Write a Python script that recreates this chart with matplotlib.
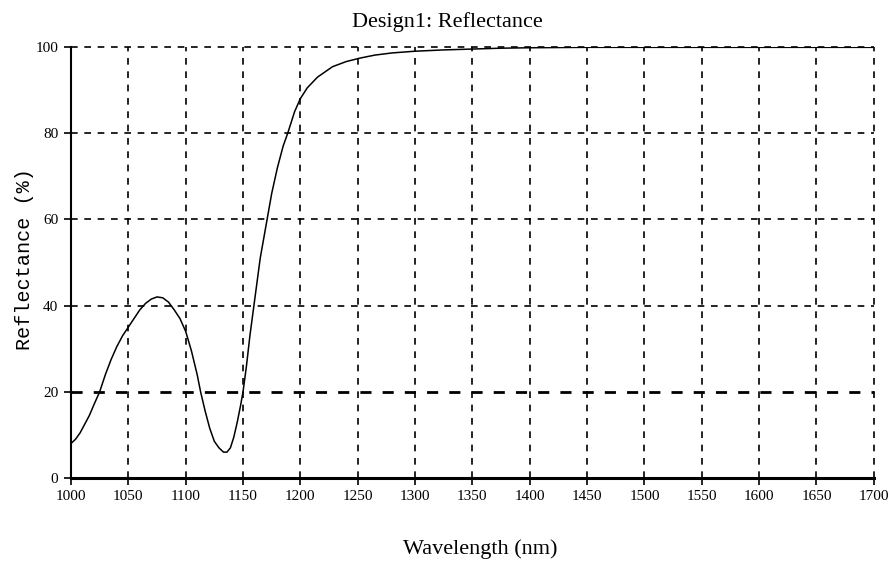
import matplotlib.pyplot as plt

# reflectance curve, read per wavelength (nm -> %)
wavelength = [1000, 1004, 1008, 1012, 1016, 1020, 1025, 1030, 1035, 1040, 1045, 1050,
              1055, 1060, 1065, 1070, 1075, 1080, 1085, 1090, 1095, 1100, 1105, 1110,
              1113, 1117, 1121, 1125, 1129, 1133, 1136, 1139, 1142, 1145, 1148, 1150,
              1153, 1156, 1160, 1165, 1171, 1175, 1180, 1185, 1189, 1195, 1200, 1206,
              1215, 1228, 1240, 1252, 1265, 1280, 1300, 1325, 1350, 1375, 1400, 1450,
              1500, 1550, 1600, 1650, 1700]
reflectance = [8.0, 9.0, 10.5, 12.5, 14.5, 17.0, 20.0, 24.0, 27.5, 30.5, 33.0, 35.0,
               37.0, 39.0, 40.5, 41.5, 42.0, 41.8, 40.8, 39.0, 37.0, 34.0, 29.5, 24.0,
               20.0, 15.5, 11.5, 8.5, 7.0, 6.0, 6.0, 7.0, 9.5, 13.0, 17.0, 20.0,
               26.0, 33.0, 41.0, 51.0, 60.0, 66.0, 72.0, 77.0, 80.0, 85.0, 88.0, 90.5,
               93.0, 95.4, 96.6, 97.4, 98.1, 98.6, 99.0, 99.3, 99.5, 99.7, 99.8, 99.9,
               99.9, 99.9, 99.9, 99.9, 99.9]

x_ticks = list(range(1000, 1701, 50))
y_ticks = [0, 20, 40, 60, 80, 100]

serif = 'Liberation Serif'

fig = plt.figure(figsize=(8.93, 5.65), dpi=100)
ax = fig.add_axes([0.0795, 0.154, 0.899, 0.763])

ax.plot(wavelength, reflectance, color='black', linewidth=1.1, zorder=3)

ax.set_xlim(1000, 1700)
ax.set_ylim(0, 100)
ax.set_xticks(x_ticks)
ax.set_yticks(y_ticks)
ax.set_xticklabels([str(v) for v in x_ticks], fontsize=11, family=serif)
ax.set_yticklabels([str(v) for v in y_ticks], fontsize=11, family=serif)
ax.tick_params(direction='out', length=5, width=1.2, color='black', pad=4)

# dashed grid, including the top and right edges
for xv in x_ticks[1:]:
    ax.axvline(xv, color='black', linestyle=(0, (4, 4)), linewidth=1.2, zorder=1,
               clip_on=False)
for yv in y_ticks[1:]:
    lw = 2.0 if yv == 20 else 1.2
    ax.axhline(yv, color='black', linestyle=(0, (4, 4)), linewidth=lw, zorder=1,
               clip_on=False)

for side in ['top', 'right']:
    ax.spines[side].set_visible(False)
ax.spines['left'].set_linewidth(1.5)
ax.spines['bottom'].set_linewidth(2.2)

fig.text(447 / 893, 1 - 22 / 565, 'Design1: Reflectance', ha='center', va='center',
         fontsize=16, family=serif)
fig.text(480 / 893, 1 - 549 / 565, 'Wavelength (nm)', ha='center', va='center',
         fontsize=16, family=serif)
fig.text(25 / 893, 1 - 259 / 565, 'Reflectance (%)', ha='center', va='center',
         rotation=90, fontsize=14.5, family='Liberation Mono')

fig.savefig('out.png', dpi=100, facecolor='white')
